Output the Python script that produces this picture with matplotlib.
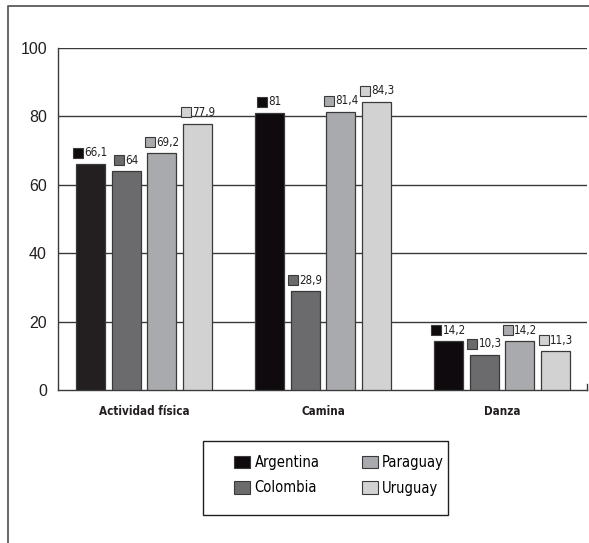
import matplotlib
matplotlib.use("Agg")
import matplotlib.pyplot as plt
import numpy as np
from matplotlib.patches import Rectangle, Patch
from matplotlib.lines import Line2D
from matplotlib.offsetbox import DrawingArea, TextArea, HPacker, AnnotationBbox
from matplotlib.font_manager import FontProperties

# Data
categories = ["Actividad física", "Camina", "Danza"]
countries = ["Argentina", "Colombia", "Paraguay", "Uruguay"]
argentina = [66.1, 81, 14.2]
colombia = [64, 28.9, 10.3]
paraguay = [69.2, 81.4, 14.2]
uruguay = [77.9, 84.3, 11.3]
y_ticks = [0, 20, 40, 60, 80, 100]

series = [argentina, colombia, paraguay, uruguay]
colors = ["#0e0a0d", "#6b6b6d", "#a9aaad", "#d2d2d3"]
regular = ["Liberation Sans", "DejaVu Sans"]
edge = "#3a3a3a"
ink = "#231f20"


def narrow_props(size, weight="normal"):
    return FontProperties(family="DejaVu Sans", stretch="condensed",
                          size=size, weight=weight)


W, H = 589, 543
fig = plt.figure(figsize=(W / 100, H / 100), dpi=100)
ax = fig.add_axes([58 / W, 1 - 390 / H, (587 - 58) / W, (390 - 48) / H])

x = np.arange(len(categories))
step = 0.1995
width = 0.162


def fmt(v):
    return f"{v:g}".replace(".", ",")


for i, (vals, col) in enumerate(zip(series, colors)):
    pos = x + (i - 1.5) * step
    bars = ax.bar(pos, vals, width=width, color=col, edgecolor=edge,
                  linewidth=0.9, zorder=3)
    if i == 0:
        bars[0].set_facecolor("#231f20")
    for b, v in zip(bars, vals):
        da = DrawingArea(7.8, 7.8, 0, 0)
        da.add_artist(Rectangle((0.3, 0.3), 7.2, 7.2, facecolor=col,
                                edgecolor=edge, linewidth=0.8))
        ta = TextArea(fmt(v), textprops=dict(fontproperties=narrow_props(8.3),
                                             color=ink))
        box = HPacker(children=[da, ta], align="center", pad=0, sep=0.6)
        ab = AnnotationBbox(box, (b.get_x() + b.get_width() / 2, v),
                            xybox=(0, 3.3), boxcoords="offset points",
                            box_alignment=(0.5, 0), frameon=False, pad=0,
                            annotation_clip=False)
        ax.add_artist(ab)

ax.set_xlim(-0.48, 2.475)
ax.set_ylim(0, 100)
ax.set_yticks(y_ticks)
ax.set_yticklabels([str(t) for t in y_ticks], fontsize=11.5, family=regular,
                   color=ink)
ax.set_xticks(x)
ax.set_xticklabels(categories, fontproperties=narrow_props(8.4, "bold"),
                   color=ink)
ax.tick_params(axis="y", length=0, pad=8)
ax.tick_params(axis="x", length=0, pad=10.5)

for y in y_ticks[1:]:
    ax.axhline(y, color="#3a3a3a", linewidth=1.0, zorder=1)
ax.plot([2.475, 2.475], [0, 1.8], color="#3a3a3a", linewidth=1.0, zorder=1,
        clip_on=False)

for s in ["top", "right"]:
    ax.spines[s].set_visible(False)
for s in ["left", "bottom"]:
    ax.spines[s].set_color("#3a3a3a")
    ax.spines[s].set_linewidth(1.0)

# Outer frame
fig.add_artist(Line2D([8 / W, 8 / W, 1.0], [0.0, 1 - 6 / H, 1 - 6 / H],
                      transform=fig.transFigure, color="#5a5a5a",
                      linewidth=1.3))

# Legend box
fig.add_artist(Rectangle((203 / W, 1 - 515 / H), (448 - 203) / W,
                         (515 - 441) / H, transform=fig.transFigure,
                         facecolor="white", edgecolor=ink,
                         linewidth=1.0))
handles = [Patch(facecolor=c, edgecolor=edge, linewidth=0.8) for c in colors]
fig.legend(handles, countries, ncol=2, loc="upper left",
           bbox_to_anchor=(234 / W, 1 - 455 / H), frameon=False,
           borderpad=0, borderaxespad=0, handlelength=1.1,
           handleheight=0.95, handletextpad=0.3, columnspacing=2.9,
           labelspacing=0.72, prop=narrow_props(10.5))

fig.savefig("out.png", dpi=100, facecolor="white")
